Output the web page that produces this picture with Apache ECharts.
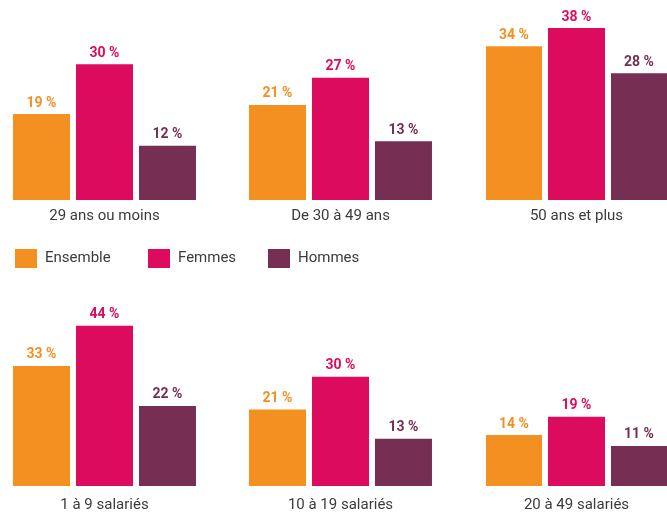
<!DOCTYPE html>
<html>
<head>
<meta charset="utf-8">
<script src="https://cdn.jsdelivr.net/npm/echarts@6/dist/echarts.min.js"></script>
<style>
  html, body { margin: 0; padding: 0; background: #fff; }
  #chart { width: 667px; height: 515px; }
</style>
</head>
<body>
<div id="chart"></div>
<script>
// panel labels, age groups on top, company size below
const categories = ['29 ans ou moins', 'De 30 à 49 ans', '50 ans et plus',
                    '1 à 9 salariés', '10 à 19 salariés', '20 à 49 salariés']
const seriesNames = ['Ensemble', 'Femmes', 'Hommes']
const ensemble = [19, 21, 34, 33, 21, 14]
const femmes   = [30, 27, 38, 44, 30, 19]
const hommes   = [12, 13, 28, 22, 13, 11]

const colors = ['#F39021', '#DC0B5E', '#762F53']
const values = [ensemble, femmes, hommes]
const font = 'Roboto'

const lefts = [13, 249, 486]
const grids = [], xAxes = [], yAxes = [], series = []

categories.forEach((cat, i) => {
    const row = i < 3 ? 0 : 1
    grids.push({
        left: lefts[i % 3],
        width: 183,
        top: row === 0 ? 19 : 304,
        height: row === 0 ? 181 : 182,
    })
    xAxes.push({
        type: 'category',
        gridIndex: i,
        data: [cat],
        axisLine: { show: false },
        axisTick: { show: false },
        axisLabel: {
            color: '#3b3b3b',
            fontSize: 15,
            fontFamily: font,
            margin: row === 0 ? 9 : 12,
        },
    })
    yAxes.push({
        type: 'value',
        gridIndex: i,
        min: 0,
        max: row === 0 ? 40 : 50,
        show: false,
    })
    seriesNames.forEach((name, k) => {
        series.push({
            name: name,
            type: 'bar',
            xAxisIndex: i,
            yAxisIndex: i,
            data: [values[k][i]],
            barWidth: 57,
            barGap: '10.5%',
            itemStyle: { color: colors[k] },
            label: {
                show: true,
                position: 'top',
                distance: 4,
                formatter: '{c} %',
                color: colors[k],
                fontSize: 14,
                fontWeight: 'bold',
                fontFamily: font,
            },
        })
    })
})

// legend entries are placed one by one, padding 5 is taken off
const legendLefts = [10, 143, 263]
const legends = seriesNames.map((name, k) => ({
    data: [name],
    left: legendLefts[k],
    top: 244,
    itemWidth: 22,
    itemHeight: 19,
    icon: 'rect',
    selectedMode: false,
    textStyle: {
        color: '#3b3b3b',
        fontSize: 15,
        fontFamily: font,
        padding: [0, 0, 0, 3],
    },
}))

const myChart = echarts.init(document.getElementById('chart'))
myChart.setOption({
    color: colors,
    animation: false,
    legend: legends,
    grid: grids,
    xAxis: xAxes,
    yAxis: yAxes,
    series: series,
})
</script>
</body>
</html>
